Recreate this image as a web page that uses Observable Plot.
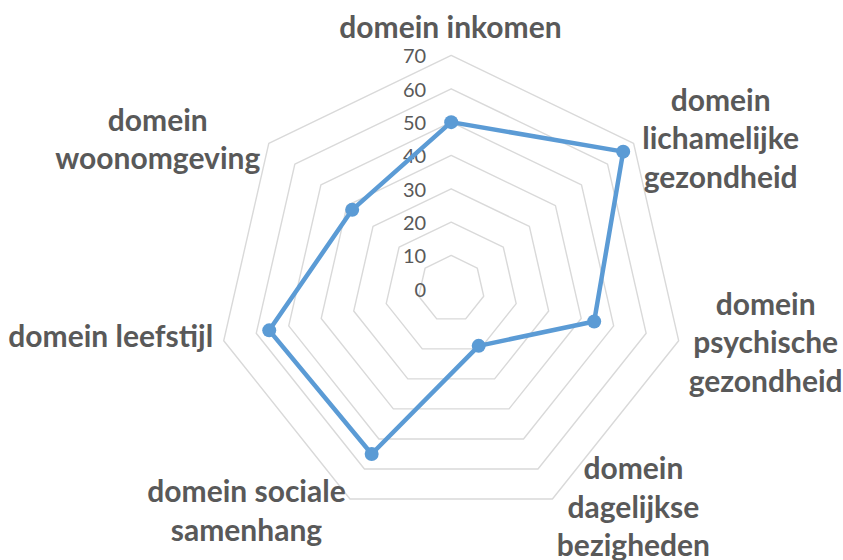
<!DOCTYPE html>
<html>
<head>
<meta charset="utf-8">
<script src="https://cdn.jsdelivr.net/npm/d3@7"></script>
<script src="https://cdn.jsdelivr.net/npm/@observablehq/plot@0.6"></script>
<style>
  html, body { margin: 0; padding: 0; background: #ffffff; }
  svg { display: block; }
</style>
</head>
<body>
<div id="chart"></div>
<script>
// ---- data ----
const categories = [
  "domein\u00a0inkomen",
  "domein\nlichamelijke\ngezondheid",
  "domein\npsychische\ngezondheid",
  "domein\ndagelijkse\nbezigheden",
  "domein sociale\nsamenhang",
  "domein leefstijl",
  "domein\nwoonomgeving"
];
const values = [50, 66, 44, 19, 55, 56, 38];
const tickValues = [0, 10, 20, 30, 40, 50, 60, 70];
const ringValues = [10, 20, 30, 40, 50, 60, 70];

// ---- layout ----
const W = 843, H = 560;
const cx = 450.7, cy = 288.3;      // pixel centre
const k = 3.333;                   // px per unit
const maxV = 70;
const n = categories.length;
const angle = i => (2 * Math.PI * i) / n;   // clockwise from top
const px = (i, v) => v * Math.sin(angle(i));
const py = (i, v) => v * Math.cos(angle(i));

// label offsets (px) relative to the outer vertex
const labelOffsets = [
  [-0.7, -30.3], [87, -6.6], [87, 0.4], [81, 6.5], [-103.5, 10.4], [-113, -5.6], [-111, -5.6]
];

const rings = ringValues.flatMap(r => d3.range(n).map(i => ({ring: r, x: px(i, r), y: py(i, r)})));
const series = values.map((v, i) => ({cat: categories[i], x: px(i, v), y: py(i, v)}));

const textColor = "#595959";
const labelFont = "Lato, 'Open Sans', sans-serif";
const fs = 30;

const labelMarks = categories.map((c, i) =>
  Plot.text([c], {
    x: () => px(i, maxV), y: () => py(i, maxV),
    text: d => d,
    dx: labelOffsets[i][0], dy: labelOffsets[i][1],
    fontSize: fs, fontWeight: "bold", fill: textColor,
    textAnchor: "middle", lineAnchor: "middle", lineHeight: 38.5 / fs
  })
);

const chart = Plot.plot({
  width: W, height: H,
  marginTop: 0, marginRight: 0, marginBottom: 0, marginLeft: 0,
  x: {domain: [-cx / k, (W - cx) / k], axis: null},
  y: {domain: [-(H - cy) / k, cy / k], axis: null},
  style: {fontFamily: labelFont, background: "#ffffff"},
  marks: [
    Plot.line(rings, {x: "x", y: "y", z: "ring", curve: "linear-closed", stroke: "#d9d9d9", strokeWidth: 1.4}),
    Plot.text(tickValues, {
      x: 0, y: d => d, text: d => String(d),
      dx: -25, dy: 1.5, textAnchor: "end", fontSize: 20, fill: textColor, fontFamily: labelFont
    }),
    Plot.line(series, {x: "x", y: "y", curve: "linear-closed", stroke: "#5b9bd5", strokeWidth: 4.5, strokeLinejoin: "round"}),
    Plot.dot(series, {x: "x", y: "y", r: 7, fill: "#5b9bd5", stroke: "none"}),
    ...labelMarks
  ]
});
document.getElementById("chart").appendChild(chart);
</script>
</body>
</html>
